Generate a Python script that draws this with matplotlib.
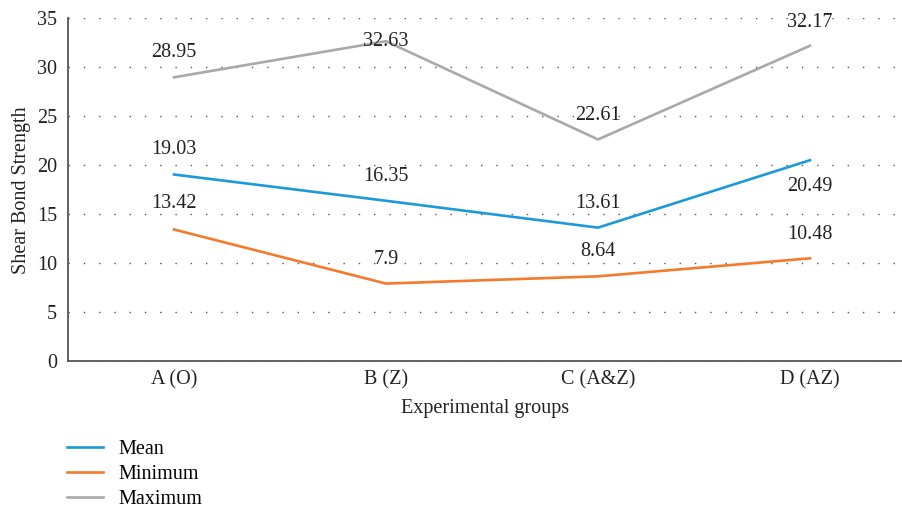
import matplotlib
matplotlib.use('Agg')
import matplotlib.pyplot as plt

groups = ["A (O)", "B (Z)", "C (A&Z)", "D (AZ)"]
mean_vals = [19.03, 16.35, 13.61, 20.49]
min_vals = [13.42, 7.9, 8.64, 10.48]
max_vals = [28.95, 32.63, 22.61, 32.17]
yticks = [0, 5, 10, 15, 20, 25, 30, 35]

plt.rcParams['font.family'] = ['Liberation Serif', 'DejaVu Serif']
fs = 14.5

fig = plt.figure(figsize=(9.03, 5.11), dpi=100)
ax = fig.add_axes([68 / 903, 150 / 511, 848 / 903, 343 / 511])

x = list(range(len(groups)))
series = [
    ("Mean", mean_vals, "#1b9ad7", [25, 24, 24, -26]),
    ("Minimum", min_vals, "#f47a2d", [26, 24, 25, 24]),
    ("Maximum", max_vals, "#a9a9a9", [25, 0, 24, 23]),
]
for name, vals, color, offs in series:
    ax.plot(x, vals, color=color, lw=1.9, label=name)
    for xi, v, off in zip(x, vals, offs):
        ax.annotate(f"{v:g}", (xi, v), xytext=(0, off), textcoords="offset pixels",
                    ha="center", va="center", fontsize=fs, color="#222222")

ax.set_xlim(-0.5, 3.5)
ax.set_ylim(0, 35)
ax.set_yticks(yticks)
ax.set_xticks(x)
ax.set_xticklabels(groups)
ax.tick_params(length=0, labelsize=fs, colors="#222222")
ax.tick_params(axis='y', pad=8)
ax.tick_params(axis='x', pad=7)
ax.grid(axis='y', linestyle=(0, (1, 10)), color='#555555', lw=1.0)
ax.set_axisbelow(True)
for s in ["top", "right"]:
    ax.spines[s].set_visible(False)
for s in ["left", "bottom"]:
    ax.spines[s].set_color("#555555")
    ax.spines[s].set_linewidth(1.3)

ax.set_xlabel("Experimental groups", fontsize=fs, color="#222222")
ax.xaxis.set_label_coords((485 - 68) / 848, -38 / 343)
fig.text(22 / 903, 1 - 190 / 511, "Shear Bond Strength", rotation=90,
         ha="center", va="center", fontsize=fs, color="#222222")

ax.legend(loc="upper left", bbox_to_anchor=(53 / 903, 1 - 426 / 511),
          bbox_transform=fig.transFigure, frameon=False, fontsize=fs,
          handlelength=1.8, labelspacing=0.3, handletextpad=0.75,
          borderpad=0.2)

fig.savefig("out.png", dpi=100)
